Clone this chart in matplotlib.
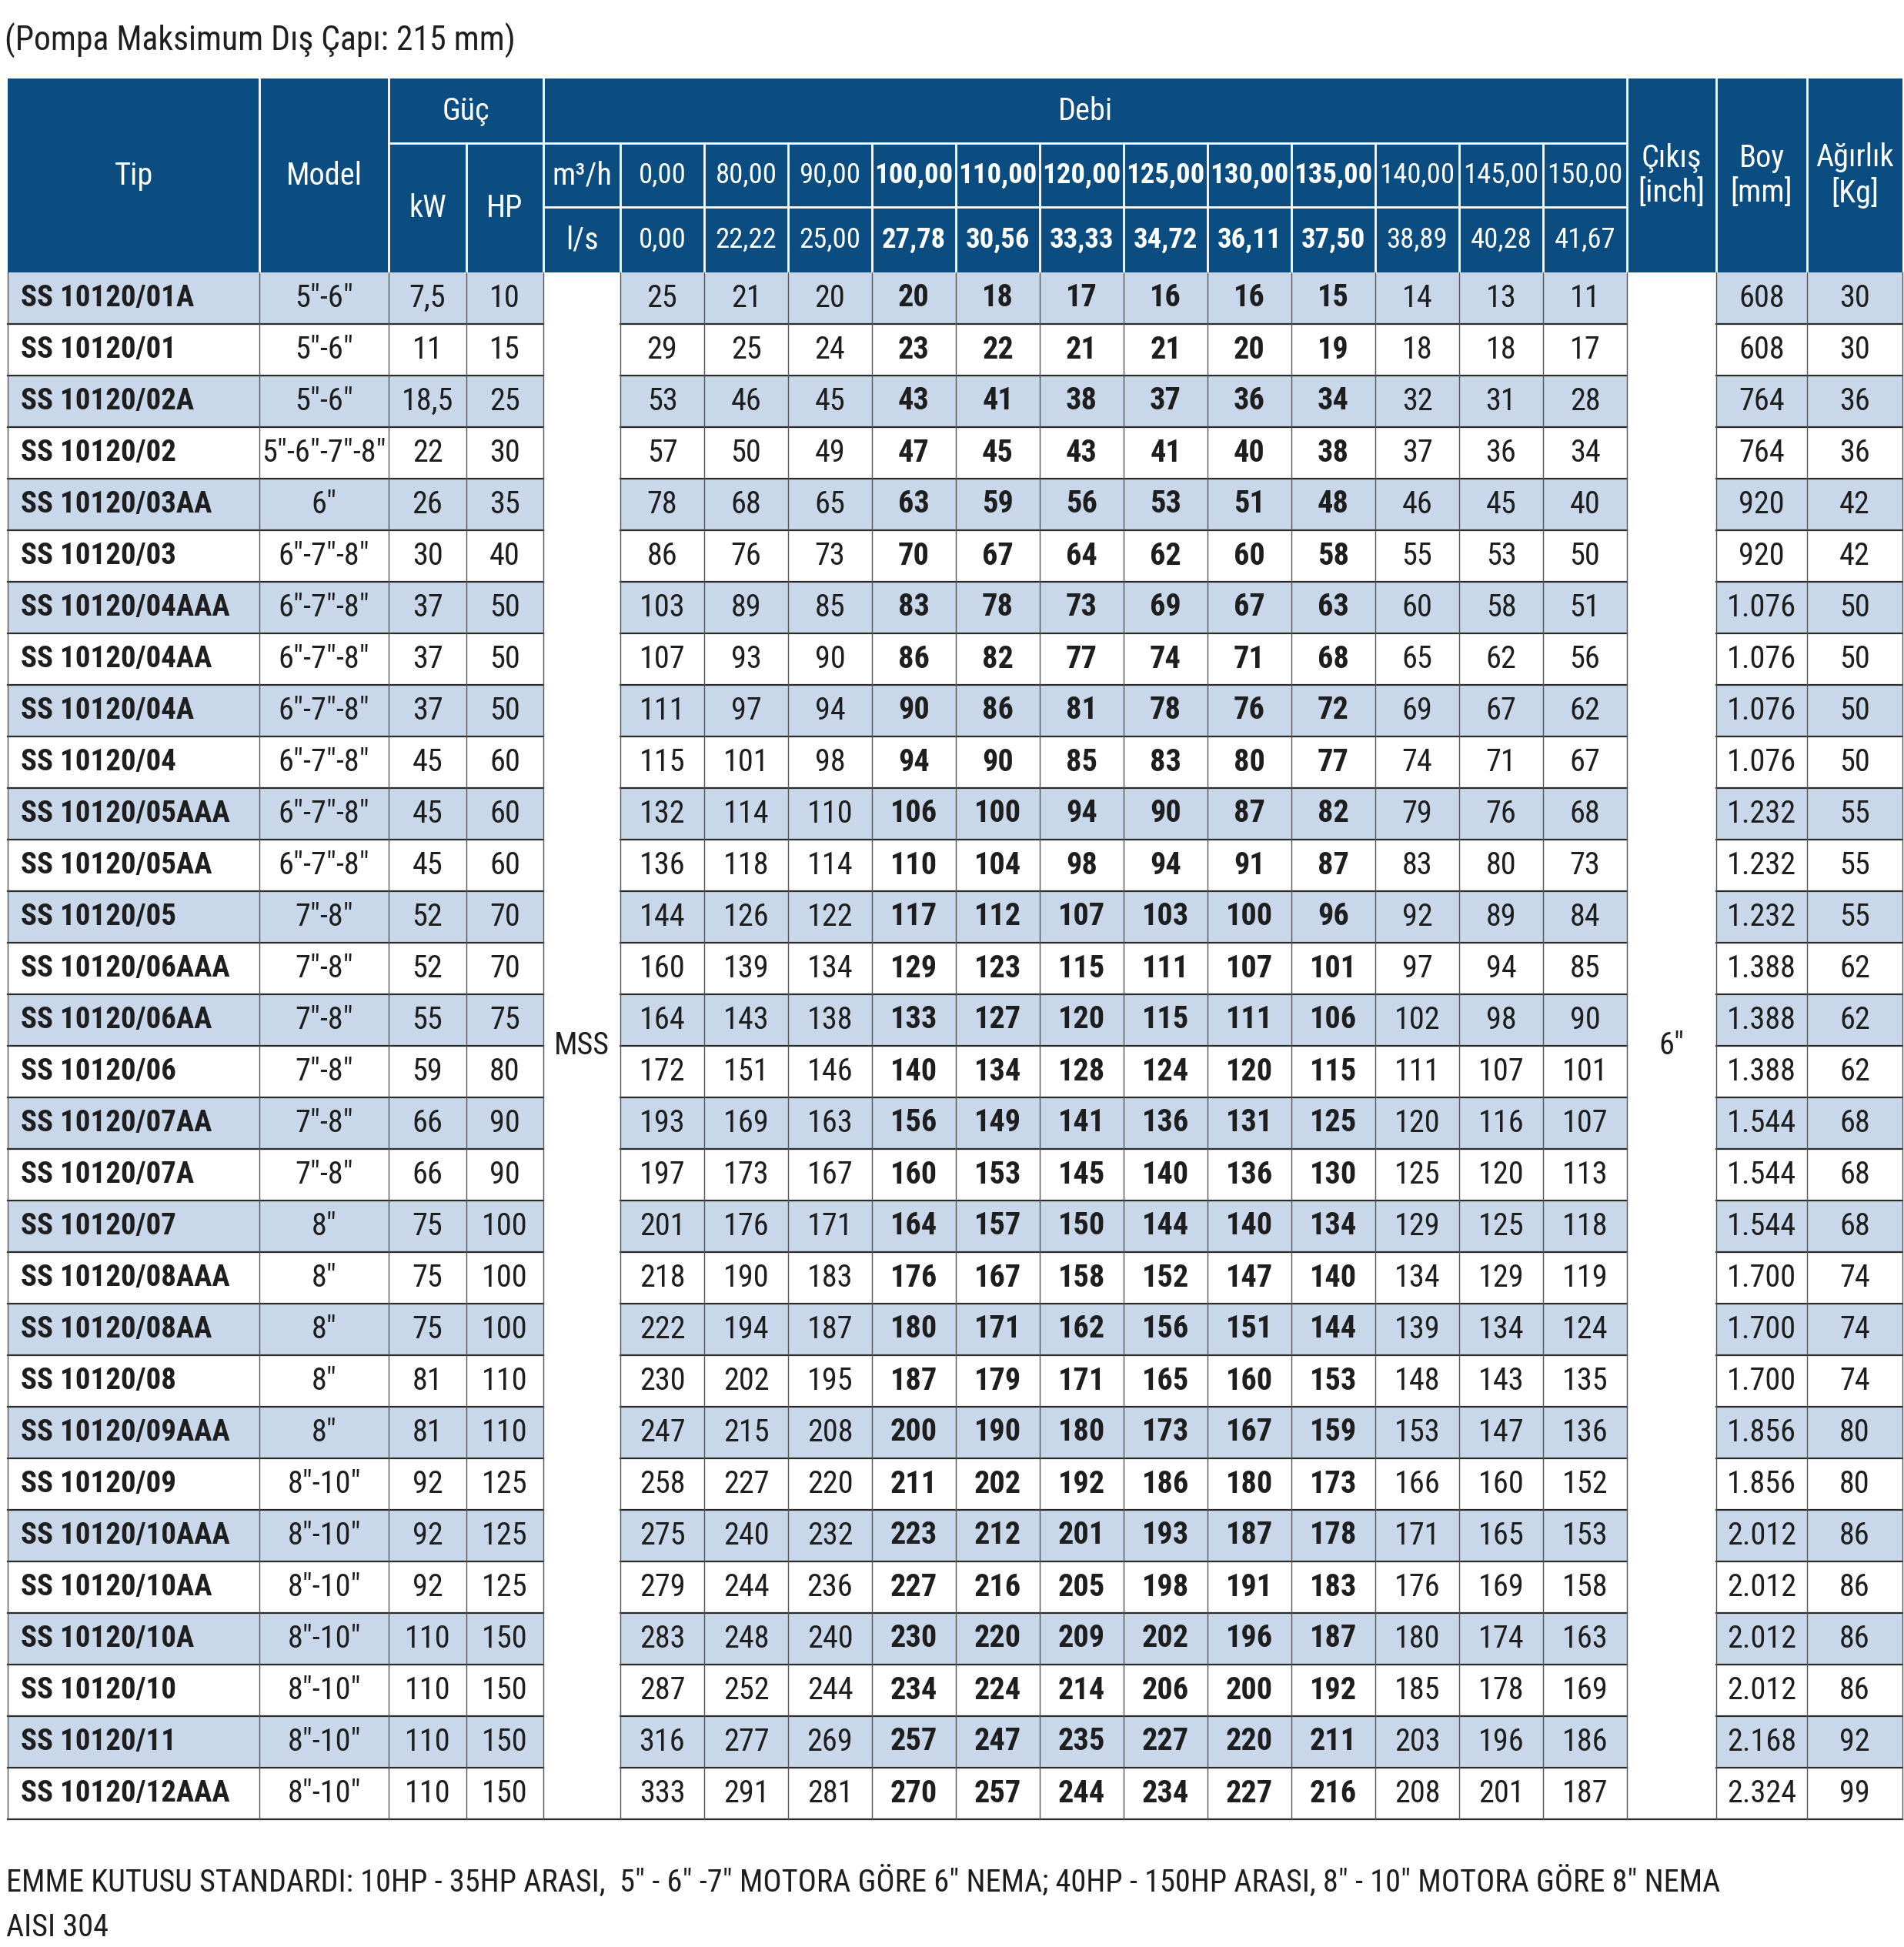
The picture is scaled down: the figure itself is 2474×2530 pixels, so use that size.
import matplotlib
matplotlib.use("Agg")
import matplotlib.pyplot as plt
from matplotlib.patches import Rectangle

plt.rcParams['font.family'] = ['Roboto Condensed', 'IBM Plex Sans Condensed', 'DejaVu Sans']
plt.rcParams['font.stretch'] = 'condensed'

# --- data ---
tips = ["SS 10120/01A", "SS 10120/01", "SS 10120/02A", "SS 10120/02", "SS 10120/03AA",
        "SS 10120/03", "SS 10120/04AAA", "SS 10120/04AA", "SS 10120/04A", "SS 10120/04",
        "SS 10120/05AAA", "SS 10120/05AA", "SS 10120/05", "SS 10120/06AAA", "SS 10120/06AA",
        "SS 10120/06", "SS 10120/07AA", "SS 10120/07A", "SS 10120/07", "SS 10120/08AAA",
        "SS 10120/08AA", "SS 10120/08", "SS 10120/09AAA", "SS 10120/09", "SS 10120/10AAA",
        "SS 10120/10AA", "SS 10120/10A", "SS 10120/10", "SS 10120/11", "SS 10120/12AAA"]
models = ["5″-6″", "5″-6″", "5″-6″", "5″-6″-7″-8″", "6″", "6″-7″-8″", "6″-7″-8″", "6″-7″-8″",
          "6″-7″-8″", "6″-7″-8″", "6″-7″-8″", "6″-7″-8″", "7″-8″", "7″-8″", "7″-8″", "7″-8″",
          "7″-8″", "7″-8″", "8″", "8″", "8″", "8″", "8″", "8″-10″", "8″-10″", "8″-10″",
          "8″-10″", "8″-10″", "8″-10″", "8″-10″"]
kw = [7.5, 11, 18.5, 22, 26, 30, 37, 37, 37, 45, 45, 45, 52, 52, 55, 59, 66, 66, 75, 75,
      75, 81, 81, 92, 92, 92, 110, 110, 110, 110]
hp = [10, 15, 25, 30, 35, 40, 50, 50, 50, 60, 60, 60, 70, 70, 75, 80, 90, 90, 100, 100,
      100, 110, 110, 125, 125, 125, 150, 150, 150, 150]
flow_m3h = [0.00, 80.00, 90.00, 100.00, 110.00, 120.00, 125.00, 130.00, 135.00, 140.00, 145.00, 150.00]
flow_ls = [0.00, 22.22, 25.00, 27.78, 30.56, 33.33, 34.72, 36.11, 37.50, 38.89, 40.28, 41.67]
bold_flow = [False, False, False, True, True, True, True, True, True, False, False, False]
head = [
    [25, 21, 20, 20, 18, 17, 16, 16, 15, 14, 13, 11],
    [29, 25, 24, 23, 22, 21, 21, 20, 19, 18, 18, 17],
    [53, 46, 45, 43, 41, 38, 37, 36, 34, 32, 31, 28],
    [57, 50, 49, 47, 45, 43, 41, 40, 38, 37, 36, 34],
    [78, 68, 65, 63, 59, 56, 53, 51, 48, 46, 45, 40],
    [86, 76, 73, 70, 67, 64, 62, 60, 58, 55, 53, 50],
    [103, 89, 85, 83, 78, 73, 69, 67, 63, 60, 58, 51],
    [107, 93, 90, 86, 82, 77, 74, 71, 68, 65, 62, 56],
    [111, 97, 94, 90, 86, 81, 78, 76, 72, 69, 67, 62],
    [115, 101, 98, 94, 90, 85, 83, 80, 77, 74, 71, 67],
    [132, 114, 110, 106, 100, 94, 90, 87, 82, 79, 76, 68],
    [136, 118, 114, 110, 104, 98, 94, 91, 87, 83, 80, 73],
    [144, 126, 122, 117, 112, 107, 103, 100, 96, 92, 89, 84],
    [160, 139, 134, 129, 123, 115, 111, 107, 101, 97, 94, 85],
    [164, 143, 138, 133, 127, 120, 115, 111, 106, 102, 98, 90],
    [172, 151, 146, 140, 134, 128, 124, 120, 115, 111, 107, 101],
    [193, 169, 163, 156, 149, 141, 136, 131, 125, 120, 116, 107],
    [197, 173, 167, 160, 153, 145, 140, 136, 130, 125, 120, 113],
    [201, 176, 171, 164, 157, 150, 144, 140, 134, 129, 125, 118],
    [218, 190, 183, 176, 167, 158, 152, 147, 140, 134, 129, 119],
    [222, 194, 187, 180, 171, 162, 156, 151, 144, 139, 134, 124],
    [230, 202, 195, 187, 179, 171, 165, 160, 153, 148, 143, 135],
    [247, 215, 208, 200, 190, 180, 173, 167, 159, 153, 147, 136],
    [258, 227, 220, 211, 202, 192, 186, 180, 173, 166, 160, 152],
    [275, 240, 232, 223, 212, 201, 193, 187, 178, 171, 165, 153],
    [279, 244, 236, 227, 216, 205, 198, 191, 183, 176, 169, 158],
    [283, 248, 240, 230, 220, 209, 202, 196, 187, 180, 174, 163],
    [287, 252, 244, 234, 224, 214, 206, 200, 192, 185, 178, 169],
    [316, 277, 269, 257, 247, 235, 227, 220, 211, 203, 196, 186],
    [333, 291, 281, 270, 257, 244, 234, 227, 216, 208, 201, 187],
]
boy_mm = [608, 608, 764, 764, 920, 920, 1076, 1076, 1076, 1076, 1232, 1232, 1232, 1388, 1388,
          1388, 1544, 1544, 1544, 1700, 1700, 1700, 1856, 1856, 2012, 2012, 2012, 2012, 2168, 2324]
weight_kg = [30, 30, 36, 36, 42, 42, 50, 50, 50, 50, 55, 55, 55, 62, 62, 62, 68, 68, 68, 74,
             74, 74, 80, 80, 86, 86, 86, 86, 92, 99]
motor_type = "MSS"
outlet = "6″"
title = "(Pompa Maksimum Dış Çapı: 215 mm)"
footer1 = ("EMME KUTUSU STANDARDI: 10HP - 35HP ARASI,  5″ - 6″ -7″ MOTORA GÖRE 6″ NEMA; "
           "40HP - 150HP ARASI, 8″ - 10″ MOTORA GÖRE 8″ NEMA")
footer2 = "AISI 304"

# --- layout (pixels) ---
W, H = 2474, 2530
BLUE = "#0b4d80"
STRIPE = "#c9d7ea"
INK = "#1e1e1e"
FS = 29          # body text
FS_TIP = 28      # bold type names
FS_FLOW = 26.5   # flow header numbers

x_tip, x_model, x_kw, x_hp, x_unit, x_flow0 = 10, 337, 505, 606, 706, 806
flow_w = 109
x_cikis = x_flow0 + 12 * flow_w
x_boy, x_kg, x_end = 2230, 2348, 2472
y_top, y_h1, y_h2, y_h3 = 102, 186, 269, 354
row_h = 67
n = len(tips)
y_bot = y_h3 + n * row_h

fig = plt.figure(figsize=(W / 100, H / 100), dpi=100)
ax = fig.add_axes([0, 0, 1, 1])
ax.set_xlim(0, W)
ax.set_ylim(H, 0)
ax.axis("off")


def fmt_dec(v, nd):
    return f"{v:.{nd}f}".replace(".", ",")


def fmt_kw(v):
    return f"{v:g}".replace(".", ",")


def fmt_thou(v):
    return f"{v:,}".replace(",", ".")


ax.text(6, 53, title, fontsize=31.5, va="center", ha="left", color=INK)

# header block
ax.add_patch(Rectangle((x_tip, y_top), x_end - x_tip, y_h3 - y_top, color=BLUE, lw=0))
flow_edges = [x_flow0 + i * flow_w for i in range(13)]
wkw = dict(color="white", lw=2)
for x in [x_model, x_kw, x_unit, x_cikis, x_boy, x_kg]:
    ax.plot([x, x], [y_top, y_h3], **wkw)
for x in [x_hp] + flow_edges[:-1]:
    ax.plot([x, x], [y_h1, y_h3], **wkw)
ax.plot([x_kw, x_cikis], [y_h1, y_h1], **wkw)
ax.plot([x_unit, x_cikis], [y_h2, y_h2], **wkw)

hdr = dict(color="white", fontsize=FS, ha="center", va="center")
ymid = (y_top + y_h3) / 2
ax.text((x_tip + x_model) / 2, ymid, "Tip", **hdr)
ax.text((x_model + x_kw) / 2, ymid, "Model", **hdr)
ax.text((x_kw + x_unit) / 2, (y_top + y_h1) / 2, "Güç", **hdr)
ax.text((x_kw + x_hp) / 2, (y_h1 + y_h3) / 2, "kW", **hdr)
ax.text((x_hp + x_unit) / 2, (y_h1 + y_h3) / 2, "HP", **hdr)
ax.text((x_unit + x_cikis) / 2, (y_top + y_h1) / 2, "Debi", **hdr)
ax.text((x_unit + x_flow0) / 2, (y_h1 + y_h2) / 2, "m³/h", **hdr)
ax.text((x_unit + x_flow0) / 2, (y_h2 + y_h3) / 2, "l/s", **hdr)
for i in range(12):
    cx = x_flow0 + (i + 0.5) * flow_w
    wt = "bold" if bold_flow[i] else "normal"
    ax.text(cx, (y_h1 + y_h2) / 2, fmt_dec(flow_m3h[i], 2), color="white", fontsize=FS_FLOW,
            ha="center", va="center", fontweight=wt)
    ax.text(cx, (y_h2 + y_h3) / 2, fmt_dec(flow_ls[i], 2), color="white", fontsize=FS_FLOW,
            ha="center", va="center", fontweight=wt)
ax.text((x_cikis + x_boy) / 2, ymid, "Çıkış\n[inch]", linespacing=1.2, **hdr)
ax.text((x_boy + x_kg) / 2, ymid, "Boy\n[mm]", linespacing=1.2, **hdr)
ax.text((x_kg + x_end) / 2, ymid, "Ağırlık\n[Kg]", linespacing=1.2, **hdr)

# body
segments = [(x_tip, x_unit), (x_flow0, x_cikis), (x_boy, x_end)]
txt = dict(color=INK, fontsize=FS, ha="center", va="center")
for r in range(n):
    y0 = y_h3 + r * row_h
    yc = y0 + row_h / 2
    if r % 2 == 0:
        for a, b in segments:
            ax.add_patch(Rectangle((a, y0), b - a, row_h, color=STRIPE, lw=0))
    ax.text(x_tip + 17, yc, tips[r], color=INK, fontsize=FS_TIP, ha="left",
            va="center", fontweight="bold")
    ax.text((x_model + x_kw) / 2, yc, models[r], **txt)
    ax.text((x_kw + x_hp) / 2, yc, fmt_kw(kw[r]), **txt)
    ax.text((x_hp + x_unit) / 2, yc, str(hp[r]), **txt)
    for i in range(12):
        cx = x_flow0 + (i + 0.5) * flow_w
        ax.text(cx, yc, str(head[r][i]), fontweight="bold" if bold_flow[i] else "normal", **txt)
    ax.text((x_boy + x_kg) / 2, yc, fmt_thou(boy_mm[r]), **txt)
    ax.text((x_kg + x_end) / 2, yc, str(weight_kg[r]), **txt)
    if r < n - 1:
        for a, b in segments:
            ax.plot([a, b], [y0 + row_h, y0 + row_h], color="#2a2a2a", lw=1.6)

ax.plot([x_tip, x_end], [y_bot, y_bot], color="#2a2a2a", lw=1.6)
for x in [x_tip, x_model, x_kw, x_hp, x_unit] + flow_edges + [x_boy, x_kg, x_end]:
    ax.plot([x, x], [y_h3, y_bot], color="#555555", lw=1.0)

ax.text((x_unit + x_flow0) / 2, (y_h3 + y_bot) / 2, motor_type, **txt)
ax.text((x_cikis + x_boy) / 2, (y_h3 + y_bot) / 2, outlet, **txt)

ax.text(8, 2445, footer1, fontsize=29, ha="left", va="center", color=INK)
ax.text(8, 2505, footer2, fontsize=29, ha="left", va="center", color=INK)

fig.savefig("out.png", dpi=100)
